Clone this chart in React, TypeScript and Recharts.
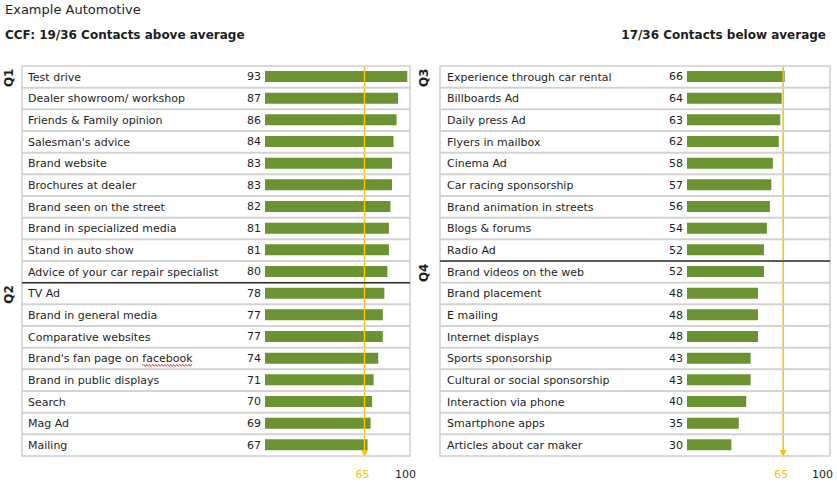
import React, { useLayoutEffect, useRef, useState } from 'react';
import { BarChart, Bar, XAxis, YAxis, ReferenceLine, LabelList } from 'recharts';

const leftNames = [
  'Test drive',
  'Dealer showroom/ workshop',
  'Friends & Family opinion',
  "Salesman's advice",
  'Brand website',
  'Brochures at dealer',
  'Brand seen on the street',
  'Brand in specialized media',
  'Stand in auto show',
  'Advice of your car repair specialist',
  'TV Ad',
  'Brand in general media',
  'Comparative websites',
  "Brand's fan page on facebook",
  'Brand in public displays',
  'Search',
  'Mag Ad',
  'Mailing',
];
const leftValues = [93, 87, 86, 84, 83, 83, 82, 81, 81, 80, 78, 77, 77, 74, 71, 70, 69, 67];
const leftGroups = ['Q1', 'Q1', 'Q1', 'Q1', 'Q1', 'Q1', 'Q1', 'Q1', 'Q1', 'Q1', 'Q2', 'Q2', 'Q2', 'Q2', 'Q2', 'Q2', 'Q2', 'Q2'];

const rightNames = [
  'Experience through car rental',
  'Billboards Ad',
  'Daily press Ad',
  'Flyers in mailbox',
  'Cinema Ad',
  'Car racing sponsorship',
  'Brand animation in streets',
  'Blogs & forums',
  'Radio Ad',
  'Brand videos on the web',
  'Brand placement',
  'E mailing',
  'Internet displays',
  'Sports sponsorship',
  'Cultural or social sponsorship',
  'Interaction via phone',
  'Smartphone apps',
  'Articles about car maker',
];
const rightValues = [66, 64, 63, 62, 58, 57, 56, 54, 52, 52, 48, 48, 48, 43, 43, 40, 35, 30];
const rightGroups = ['Q3', 'Q3', 'Q3', 'Q3', 'Q3', 'Q3', 'Q3', 'Q3', 'Q3', 'Q4', 'Q4', 'Q4', 'Q4', 'Q4', 'Q4', 'Q4', 'Q4', 'Q4'];

const axisTicks = [65, 100];
const averageValue = 65;
const misspelledWord = 'facebook';

const titleText = 'Example Automotive';
const leftHeading = 'CCF: 19/36 Contacts above average';
const rightHeading = '17/36 Contacts below average';

const FONT = '"DejaVu Sans", Verdana, sans-serif';
const GREEN = '#6b9331';
const ORANGE = '#ffc000';
const TEXT = '#1e1e1e';
const GRID = '#d2d2d2';
const LABEL_SIZE = 11;

type Row = { name: string; value: number; group: string };

function makeRows(names: string[], values: number[], groups: string[]): Row[] {
  return names.map((name, i) => ({ name, value: values[i], group: groups[i] }));
}

const leftRows = makeRows(leftNames, leftValues, leftGroups);
const rightRows = makeRows(rightNames, rightValues, rightGroups);

const PLOT_TOP = 66;
const PLOT_BOTTOM = 456;
const CHART_H = 487;

function wavePath(x0: number, x1: number, y: number) {
  let d = `M${x0},${y}`;
  let up = true;
  for (let x = x0 + 1.5; x <= x1; x += 1.5) {
    d += ` L${x},${up ? y - 1 : y + 1}`;
    up = !up;
  }
  return d;
}

function LabelText({ x, y, text }: { x: number; y: number; text: string }) {
  const ref = useRef<SVGTextElement>(null);
  const [span, setSpan] = useState<[number, number] | null>(null);
  const at = text.indexOf(misspelledWord);
  useLayoutEffect(() => {
    if (at >= 0 && ref.current) {
      try {
        const el = ref.current;
        const sx = el.getStartPositionOfChar(at).x;
        const w = el.getSubStringLength(at, misspelledWord.length);
        setSpan([sx, sx + w]);
      } catch (e) {
        setSpan(null);
      }
    }
  }, [text, x, y]);
  const baseline = y + LABEL_SIZE * 0.35;
  return (
    <g>
      <text ref={ref} x={x} y={y} dy="0.35em" fontSize={LABEL_SIZE} fill={TEXT} fontFamily={FONT}>
        {text}
      </text>
      {span && <path d={wavePath(span[0], span[1], baseline + 3)} fill="none" stroke="#e02020" strokeWidth={0.8} />}
    </g>
  );
}

function RowTick(props: any) {
  const { y, payload, rows, boxLeft, boxRight, bandHeight, labelX, qX } = props;
  const index = props.index ?? payload.index;
  const row: Row = rows[index];
  const top = y - bandHeight / 2;
  const newGroup = index === 0 || rows[index - 1].group !== row.group;
  return (
    <g>
      <rect x={boxLeft} y={top} width={boxRight - boxLeft} height={bandHeight} fill="none" stroke={GRID} strokeWidth={1.6} />
      {newGroup && index > 0 && (
        <line x1={boxLeft} x2={boxRight} y1={top} y2={top} stroke="#333" strokeWidth={1.5} />
      )}
      {newGroup && (
        <text
          transform={`translate(${qX},${y + 1}) rotate(-90)`}
          textAnchor="middle"
          dy="0.35em"
          fontWeight="bold"
          fontSize={12}
          fill={TEXT}
          fontFamily={FONT}
        >
          {row.group}
        </text>
      )}
      <LabelText x={labelX} y={y} text={String(payload.value)} />
    </g>
  );
}

function ValueTick(props: any) {
  const { x, y, payload } = props;
  const avg = payload.value === averageValue;
  return (
    <text
      x={x}
      y={y}
      dy="0.71em"
      dx={avg ? -2 : -2}
      textAnchor={avg ? 'middle' : 'end'}
      fill={avg ? ORANGE : TEXT}
      fontSize={11}
      fontFamily={FONT}
    >
      {payload.value}
    </text>
  );
}

function ArrowLine(props: any) {
  const { x1, y1, y2 } = props;
  const top = Math.min(y1, y2);
  const bottom = Math.max(y1, y2);
  return (
    <g>
      <line x1={x1} x2={x1} y1={top} y2={bottom} stroke={ORANGE} strokeWidth={1.5} />
      <path d={`M${x1 - 3.5},${bottom - 6} L${x1 + 3.5},${bottom - 6} L${x1},${bottom + 1} Z`} fill={ORANGE} />
    </g>
  );
}

type PanelProps = {
  rows: Row[];
  left: number;
  width: number;
  yAxisWidth: number;
  boxLeft: number;
  boxRight: number;
  labelX: number;
  qX: number;
};

function Panel({ rows, left, width, yAxisWidth, boxLeft, boxRight, labelX, qX }: PanelProps) {
  const bandHeight = (PLOT_BOTTOM - PLOT_TOP) / rows.length;
  return (
    <div style={{ position: 'absolute', left, top: 0 }}>
      <BarChart
        width={width}
        height={CHART_H}
        data={rows}
        layout="vertical"
        margin={{ top: PLOT_TOP, right: 2, bottom: 0, left: 0 }}
      >
        <XAxis
          type="number"
          domain={[0, 100]}
          ticks={axisTicks}
          interval={0}
          height={CHART_H - PLOT_BOTTOM}
          axisLine={false}
          tickLine={false}
          tickMargin={8}
          tick={<ValueTick />}
        />
        <YAxis
          type="category"
          dataKey="name"
          width={yAxisWidth}
          axisLine={false}
          tickLine={false}
          interval={0}
          tick={(p: any) => (
            <RowTick
              {...p}
              rows={rows}
              boxLeft={boxLeft}
              boxRight={boxRight}
              bandHeight={bandHeight}
              labelX={labelX}
              qX={qX}
            />
          )}
        />
        <Bar dataKey="value" fill={GREEN} barSize={11} isAnimationActive={false}>
          <LabelList dataKey="value" position="left" offset={4} fill={TEXT} fontSize={11} fontFamily={FONT} />
        </Bar>
        <ReferenceLine x={averageValue} stroke={ORANGE} shape={ArrowLine} />
      </BarChart>
    </div>
  );
}

export default function App() {
  return (
    <div style={{ position: 'absolute', left: 0, top: 0, width: 837, height: 487, background: '#fff', fontFamily: FONT, color: TEXT }}>
      <div style={{ position: 'absolute', left: 5, top: 2, fontSize: 13, lineHeight: '16px' }}>{titleText}</div>
      <div style={{ position: 'absolute', left: 5, top: 27, fontSize: 12, lineHeight: '16px', fontWeight: 'bold' }}>{leftHeading}</div>
      <div style={{ position: 'absolute', right: 11, top: 27, fontSize: 12, lineHeight: '16px', fontWeight: 'bold' }}>{rightHeading}</div>
      <Panel rows={leftRows} left={0} width={420} yAxisWidth={265} boxLeft={22} boxRight={410} labelX={28} qX={9} />
      <Panel rows={rightRows} left={410} width={427} yAxisWidth={277} boxLeft={30} boxRight={420} labelX={37} qX={14} />
    </div>
  );
}
